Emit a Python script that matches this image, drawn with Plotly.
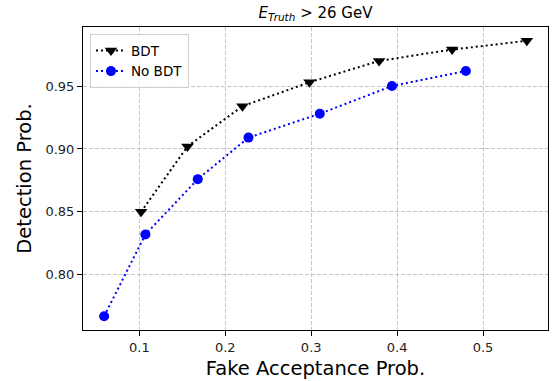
import plotly.graph_objects as go

# Data
bdt_x = [0.102, 0.156, 0.220, 0.298, 0.379, 0.464, 0.551]
bdt_y = [0.850, 0.902, 0.934, 0.953, 0.970, 0.979, 0.986]
nobdt_x = [0.059, 0.107, 0.168, 0.227, 0.310, 0.394, 0.480]
nobdt_y = [0.767, 0.832, 0.876, 0.909, 0.928, 0.950, 0.962]

x_ticks = [0.1, 0.2, 0.3, 0.4, 0.5]
x_tick_labels = ["0.1", "0.2", "0.3", "0.4", "0.5"]
y_ticks = [0.80, 0.85, 0.90, 0.95]
y_tick_labels = ["0.80", "0.85", "0.90", "0.95"]

title_text = "<i>E</i><sub><i>Truth</i></sub> > 26 GeV"
x_title = "Fake Acceptance Prob."
y_title = "Detection Prob."


def padded(vals, frac=0.05):
    lo, hi = min(vals), max(vals)
    m = (hi - lo) * frac
    return [lo - m, hi + m]


all_x = bdt_x + nobdt_x
all_y = bdt_y + nobdt_y

font = "DejaVu Sans"

fig = go.Figure()
fig.add_trace(go.Scatter(
    x=bdt_x, y=bdt_y, name="BDT", mode="lines+markers",
    line=dict(color="black", width=2, dash="2px,3px"),
    marker=dict(symbol="triangle-down", size=11, color="black"),
))
fig.add_trace(go.Scatter(
    x=nobdt_x, y=nobdt_y, name="No BDT", mode="lines+markers",
    line=dict(color="blue", width=2, dash="2px,3px"),
    marker=dict(symbol="circle", size=10, color="blue"),
))

axis_common = dict(
    showline=True, linecolor="black", linewidth=1, mirror=True,
    ticks="outside", ticklen=5, tickwidth=1, tickcolor="black",
    showgrid=True, gridcolor="#c4c4c4", griddash="4px,2px", gridwidth=1,
    zeroline=False, tickfont=dict(family=font, size=13, color="#222"),
)

fig.update_layout(
    width=554, height=381,
    margin=dict(l=83, r=6, t=27, b=51),
    paper_bgcolor="white", plot_bgcolor="white",
    font=dict(family=font, color="black"),
    title=dict(text=title_text, x=(83 + 548) / 2 / 554, xanchor="center",
               y=1 - 13 / 381, yanchor="middle",
               font=dict(family=font, size=15, color="black")),
    xaxis=dict(range=padded(all_x), tickvals=x_ticks, ticktext=x_tick_labels,
               title=dict(text=x_title, font=dict(family=font, size=19.5), standoff=7),
               **axis_common),
    yaxis=dict(range=padded(all_y), tickvals=y_ticks, ticktext=y_tick_labels,
               title=dict(text=y_title, font=dict(family=font, size=19.5), standoff=8),
               **axis_common),
    legend=dict(x=0.015, y=0.976, xanchor="left", yanchor="top",
                bgcolor="rgba(255,255,255,0.8)", bordercolor="#d0d0d0", borderwidth=1,
                font=dict(family=font, size=13.5, color="black"), itemwidth=30),
    showlegend=True,
)

fig.write_html("out.html")
